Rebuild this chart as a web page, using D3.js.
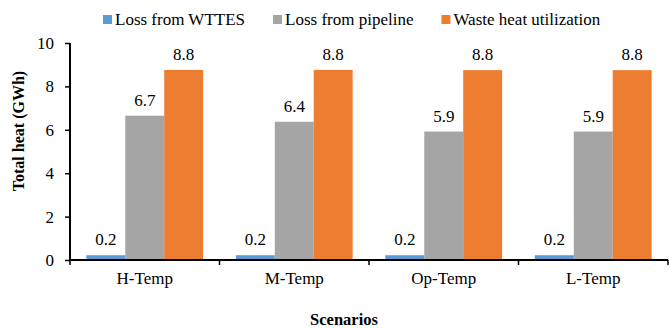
<!DOCTYPE html>
<html>
<head>
<meta charset="utf-8">
<script src="https://cdn.jsdelivr.net/npm/d3@7"></script>
<style>
  body { margin: 0; background: #fff; }
</style>
</head>
<body>
<svg id="chart" width="669" height="329"></svg>
<script>
// scenarios on the x axis
var scenarios = ["H-Temp", "M-Temp", "Op-Temp", "L-Temp"];
var seriesNames = ["Loss from WTTES", "Loss from pipeline", "Waste heat utilization"];
var seriesColors = ["#5B9BD5", "#A5A5A5", "#ED7D31"];
// values in GWh
var lossWttes = [0.22, 0.22, 0.22, 0.22];
var lossPipeline = [6.65, 6.37, 5.92, 5.92];
var wasteHeat = [8.76, 8.76, 8.75, 8.75];
var yTicks = [0, 2, 4, 6, 8, 10];

var seriesValues = [lossWttes, lossPipeline, wasteHeat];
var FONT = "'Liberation Serif', 'Times New Roman', serif";
var FS = "17px";

var svg = d3.select("#chart").style("font-family", FONT);
var mLeft = 70, mRight = 668, mTop = 43, mBottom = 260;

var x = d3.scaleBand().domain(scenarios).range([mLeft, mRight]).padding(0);
var xs = d3.scaleBand().domain(seriesNames).range([0, x.bandwidth()])
    .paddingInner(0).paddingOuter(0.42);
var y = d3.scaleLinear().domain([0, 10]).range([mBottom, mTop]);

function rows(d, i) {
    return seriesNames.map(function(s, j) { return {s: s, j: j, v: seriesValues[j][i]}; });
}

// bars
var groups = svg.append("g").selectAll("g")
    .data(scenarios)
    .enter().append("g")
    .attr("transform", function(d) { return "translate(" + x(d) + ",0)"; });

groups.selectAll("rect")
    .data(rows)
    .enter().append("rect")
    .attr("x", function(d) { return xs(d.s); })
    .attr("y", function(d) { return y(d.v); })
    .attr("width", xs.bandwidth())
    .attr("height", function(d) { return y(0) - y(d.v); })
    .attr("fill", function(d) { return seriesColors[d.j]; });

// value labels
groups.selectAll("text.val")
    .data(rows)
    .enter().append("text")
    .attr("class", "val")
    .attr("x", function(d) { return xs(d.s) + xs.bandwidth() / 2; })
    .attr("y", function(d) { return y(d.v) - 10; })
    .attr("text-anchor", "middle")
    .style("font-family", FONT)
    .style("font-size", FS)
    .text(function(d) { return d3.format(".1f")(d.v); });

// y axis
var yAxis = svg.append("g")
    .attr("transform", "translate(" + mLeft + ",0)")
    .call(d3.axisLeft(y).tickValues(yTicks).tickSize(5).tickPadding(11).tickFormat(d3.format("d")));
yAxis.attr("font-family", null);
yAxis.select(".domain").attr("stroke", "#000").attr("stroke-width", 2)
    .attr("d", "M0," + mTop + "V" + mBottom);
yAxis.selectAll(".tick line").attr("stroke", "#000").attr("stroke-width", 1.5);
yAxis.selectAll("text").style("font-size", FS)
    .style("font-family", FONT).attr("fill", "#000");

// x axis
var xAxis = svg.append("g")
    .attr("transform", "translate(0," + mBottom + ")");
xAxis.append("line")
    .attr("x1", mLeft).attr("x2", mRight)
    .attr("stroke", "#000").attr("stroke-width", 2);
var edges = scenarios.map(function(d) { return x(d); }).concat([x(scenarios[scenarios.length - 1]) + x.bandwidth()]);
xAxis.selectAll("line.tk")
    .data(edges)
    .enter().append("line")
    .attr("class", "tk")
    .attr("x1", function(d) { return d; }).attr("x2", function(d) { return d; })
    .attr("y1", 0).attr("y2", 5)
    .attr("stroke", "#000").attr("stroke-width", 1.5);
xAxis.selectAll("text")
    .data(scenarios)
    .enter().append("text")
    .attr("x", function(d) { return x(d) + x.bandwidth() / 2; })
    .attr("y", 24)
    .attr("text-anchor", "middle")
    .style("font-family", FONT)
    .style("font-size", FS)
    .text(function(d) { return d; });

// axis titles
svg.append("text")
    .attr("transform", "translate(24,131) rotate(-90)")
    .attr("text-anchor", "middle")
    .style("font-family", FONT)
    .style("font-size", "16px")
    .style("font-weight", "bold")
    .text("Total heat (GWh)");

svg.append("text")
    .attr("x", 344).attr("y", 325)
    .attr("text-anchor", "middle")
    .style("font-family", FONT)
    .style("font-size", "16.5px")
    .style("font-weight", "bold")
    .text("Scenarios");

// legend
var legend = svg.append("g");
var lx = 103;
seriesNames.forEach(function(name, i) {
    legend.append("rect")
        .attr("x", lx).attr("y", 15)
        .attr("width", 9).attr("height", 9)
        .attr("fill", seriesColors[i]);
    var t = legend.append("text")
        .attr("x", lx + 12).attr("y", 25)
        .style("font-family", FONT)
        .style("font-size", FS)
        .text(name);
    lx += 12 + t.node().getComputedTextLength() + 28;
});
</script>
</body>
</html>
